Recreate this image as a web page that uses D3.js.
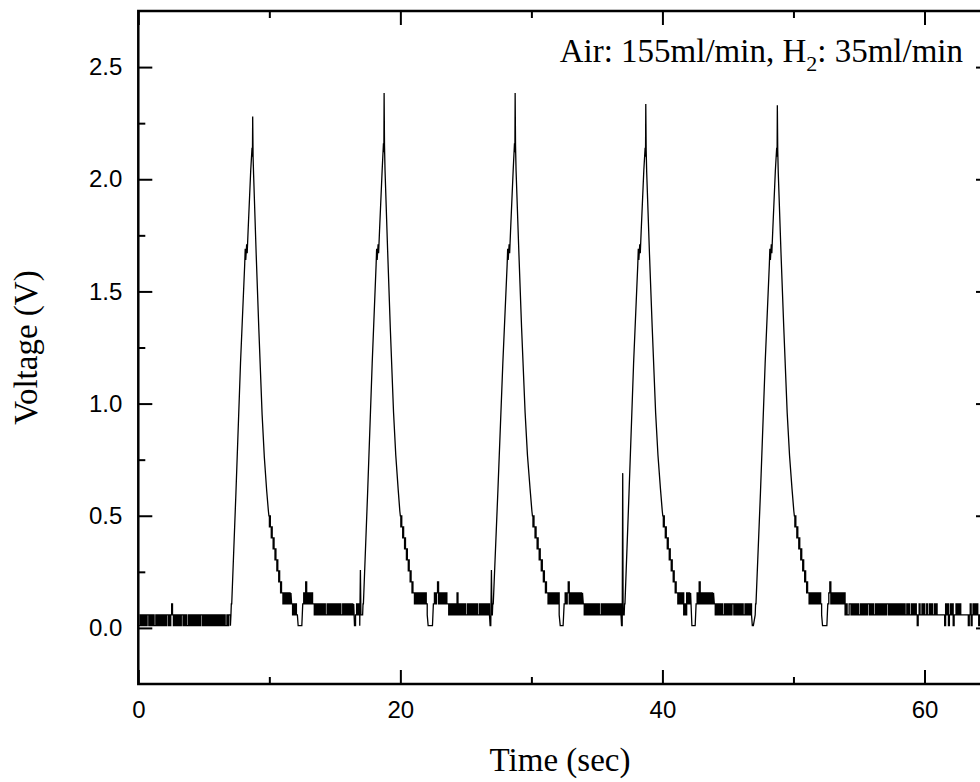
<!DOCTYPE html>
<html>
<head>
<meta charset="utf-8">
<script src="https://cdn.jsdelivr.net/npm/d3@7/dist/d3.min.js"></script>
<style>
  html, body { margin: 0; padding: 0; background: #fff; }
  svg { display: block; }
</style>
</head>
<body>
<div id="chart"></div>
<script>
// ---------------- DATA ----------------
const xTicks = [0, 20, 40, 60];
const xMinorTicks = [10, 30, 50];
const yTicks = [0, 0.5, 1.0, 1.5, 2.0, 2.5];
const yMinorTicks = [0.25, 0.75, 1.25, 1.75, 2.25];

// quantisation levels of the recorded signal (V); code '0'..'a'
const levels = [0.01, 0.058, 0.107, 0.156, 0.205, 0.254, 0.303, 0.352, 0.401, 0.450, 0.499];

// noisy / quantised stretches: [t start, t end, level codes evenly spaced in time]
const noiseRuns = [
  [0.00, 7.03, "0010101010110101010010101010101011010121010101010110101001010101010101011010101010101010101010101010010110"],
  [9.97, 10.93, "a9a9989887877676656554544343"],
  [10.97, 11.65, "32323232323"],
  [11.70, 12.14, "2121211"],
  [12.20, 12.48, "0000"],
  [12.55, 13.30, "23242323232"],
  [13.36, 16.44, "212121212121211212121212121212112121212121212"],
  [16.50, 16.90, "012120"],
  [20.00, 20.96, "a9a9989887877676656554544343"],
  [21.00, 22.05, "323232323232321"],
  [22.12, 22.45, "0000"],
  [22.52, 23.55, "23234232323232"],
  [23.62, 26.80, "2121212121312121212112121212121211212121212121"],
  [26.85, 26.90, "00"],
  [30.08, 31.15, "a9a9989887877676656554544343"],
  [31.20, 32.12, "32323232323231"],
  [32.20, 32.42, "000"],
  [32.50, 33.90, "2323423232323232323"],
  [33.96, 36.84, "21212121212121212112121212121212121212121"],
  [36.88, 36.93, "00"],
  [40.03, 41.05, "a9a9989887877676656554544343"],
  [41.10, 42.15, "323232312132323"],
  [42.25, 42.50, "0000"],
  [42.57, 43.90, "232423232323232323"],
  [43.96, 46.80, "21212121211212121212212121212121121212121"],
  [46.86, 46.94, "00"],
  [50.07, 51.08, "a9a9989887877676656554544343"],
  [51.12, 52.15, "323232323232321"],
  [52.22, 52.55, "0000"],
  [52.62, 54.25, "2342323232323232312112"],
  [54.32, 58.52, "212121212112121212122121211212121212121221212121212121212121"],
  [58.58, 64.50, "12121121212101211212112112121121211111111021201212011212121111111101201212121012121"]
];

// pulses: [time (s), voltage (V)] read from the rising and falling edges
const pulse1 = [[7.07,0.058],[7.10,0.107],[7.13,0.107],[7.45,0.60],[7.80,1.18],[8.12,1.62],[8.16,1.69],[8.20,1.64],[8.27,1.71],[8.31,1.67],[8.38,1.77],[8.58,2.04],[8.68,2.14],[8.71,2.10],[8.73,2.28],[8.76,2.10],[8.80,2.02],[9.00,1.66],[9.20,1.33],[9.45,0.95],[9.62,0.76],[9.80,0.61],[9.93,0.52]];
const pulse2 = [[16.95,0.258],[16.99,0.058],[17.12,0.058],[17.15,0.107],[17.18,0.107],[17.50,0.60],[17.85,1.18],[18.15,1.62],[18.19,1.69],[18.23,1.64],[18.30,1.71],[18.34,1.67],[18.41,1.77],[18.61,2.04],[18.71,2.16],[18.74,2.12],[18.76,2.385],[18.79,2.15],[18.83,2.04],[19.03,1.68],[19.23,1.34],[19.48,0.96],[19.65,0.77],[19.83,0.62],[19.96,0.52]];
const pulse3 = [[26.95,0.258],[26.99,0.058],[27.02,0.058],[27.05,0.107],[27.09,0.107],[27.45,0.62],[27.82,1.18],[28.15,1.62],[28.19,1.69],[28.23,1.64],[28.30,1.71],[28.34,1.67],[28.41,1.77],[28.61,2.04],[28.71,2.16],[28.74,2.12],[28.76,2.385],[28.79,2.15],[28.83,2.04],[29.04,1.68],[29.25,1.34],[29.52,0.96],[29.70,0.77],[29.90,0.62],[30.04,0.52]];
const pulse4 = [[36.97,0.69],[37.00,0.058],[37.08,0.058],[37.11,0.107],[37.14,0.107],[37.45,0.60],[37.80,1.18],[38.12,1.62],[38.16,1.69],[38.20,1.64],[38.27,1.71],[38.31,1.67],[38.38,1.77],[38.58,2.04],[38.68,2.14],[38.71,2.10],[38.73,2.335],[38.76,2.13],[38.80,2.03],[39.01,1.67],[39.22,1.34],[39.48,0.96],[39.66,0.77],[39.85,0.62],[39.99,0.52]];
const pulse5 = [[47.08,0.058],[47.11,0.107],[47.14,0.107],[47.48,0.60],[47.84,1.18],[48.16,1.62],[48.20,1.69],[48.24,1.64],[48.31,1.71],[48.35,1.67],[48.42,1.77],[48.62,2.04],[48.72,2.14],[48.75,2.10],[48.77,2.33],[48.80,2.13],[48.84,2.03],[49.05,1.67],[49.26,1.34],[49.52,0.96],[49.70,0.77],[49.89,0.62],[50.03,0.52]];
const pulses = [pulse1, pulse2, pulse3, pulse4, pulse5];

// ---------------- CHART ----------------
const W = 980, H = 782;
const plot = { left: 138.3, right: 990, top: 11, bottom: 684 };

const svg = d3.select("#chart").append("svg")
  .attr("width", W).attr("height", H);

const x = d3.scaleLinear().domain([0, 65]).range([plot.left, plot.right]);
const y = d3.scaleLinear().domain([-0.25, 2.75]).range([plot.bottom, plot.top]);

svg.append("clipPath").attr("id", "clip")
  .append("rect").attr("x", plot.left).attr("y", plot.top)
  .attr("width", plot.right - plot.left).attr("height", plot.bottom - plot.top);

// pieces of the trace, in time order: quantised runs are held sample-to-sample,
// pulse edges are joined straight
const pieces = [];
noiseRuns.forEach(([t0, t1, codes]) => {
  const n = codes.length;
  const pts = [];
  for (let i = 0; i < n; i++) {
    const t = n > 1 ? t0 + (t1 - t0) * i / (n - 1) : t0;
    pts.push([t, levels[parseInt(codes[i], 16)]]);
  }
  pieces.push({ t0, pts, step: true });
});
pulses.forEach(p => pieces.push({ t0: p[0][0], pts: p, step: false }));
pieces.sort((a, b) => a.t0 - b.t0);

const lineLin = d3.line().x(d => x(d[0])).y(d => y(d[1]));
const lineStep = d3.line().x(d => x(d[0])).y(d => y(d[1])).curve(d3.curveStepAfter);
const pathD = pieces.map((pc, i) => {
  const s = (pc.step ? lineStep : lineLin)(pc.pts);
  return i === 0 ? s : "L" + s.slice(1);
}).join("");

svg.append("path")
  .attr("clip-path", "url(#clip)")
  .attr("fill", "none")
  .attr("stroke", "#000")
  .attr("stroke-width", 1.3)
  .attr("d", pathD);

const tickFont = "'Liberation Sans', Arial, sans-serif";
const serif = "'Liberation Serif', 'Times New Roman', serif";

function styleAxis(g) {
  g.select(".domain").remove();
  g.selectAll(".tick line").attr("stroke", "#000").attr("stroke-width", 2);
  g.selectAll(".tick text").attr("fill", "#000")
    .style("font-family", tickFont).style("font-size", "24px");
}

// bottom axis
svg.append("g").attr("transform", `translate(0,${plot.bottom})`)
  .call(d3.axisBottom(x).tickValues(xTicks).tickSize(-14).tickPadding(17).tickFormat(d3.format("d")))
  .call(styleAxis);
svg.append("g").attr("transform", `translate(0,${plot.bottom})`)
  .call(d3.axisBottom(x).tickValues(xMinorTicks).tickSize(-7).tickFormat(""))
  .call(styleAxis);
// top axis
svg.append("g").attr("transform", `translate(0,${plot.top})`)
  .call(d3.axisTop(x).tickValues(xTicks).tickSize(-14).tickFormat(""))
  .call(styleAxis);
svg.append("g").attr("transform", `translate(0,${plot.top})`)
  .call(d3.axisTop(x).tickValues(xMinorTicks).tickSize(-7).tickFormat(""))
  .call(styleAxis);
// left axis
svg.append("g").attr("transform", `translate(${plot.left},0)`)
  .call(d3.axisLeft(y).tickValues(yTicks).tickSize(-14).tickPadding(16).tickFormat(d3.format(".1f")))
  .call(styleAxis);
svg.append("g").attr("transform", `translate(${plot.left},0)`)
  .call(d3.axisLeft(y).tickValues(yMinorTicks).tickSize(-7).tickFormat(""))
  .call(styleAxis);
// right axis
svg.append("g").attr("transform", `translate(${plot.right},0)`)
  .call(d3.axisRight(y).tickValues(yTicks).tickSize(-14).tickFormat(""))
  .call(styleAxis);
svg.append("g").attr("transform", `translate(${plot.right},0)`)
  .call(d3.axisRight(y).tickValues(yMinorTicks).tickSize(-7).tickFormat(""))
  .call(styleAxis);

// frame
svg.append("rect")
  .attr("x", plot.left).attr("y", plot.top)
  .attr("width", plot.right - plot.left).attr("height", plot.bottom - plot.top)
  .attr("fill", "none").attr("stroke", "#000").attr("stroke-width", 2.5);

// axis titles
svg.append("text")
  .attr("x", 560).attr("y", 771)
  .attr("text-anchor", "middle")
  .style("font-family", serif).style("font-size", "33px")
  .text("Time (sec)");

svg.append("text")
  .attr("transform", `translate(37,${(plot.top + plot.bottom) / 2}) rotate(-90)`)
  .attr("text-anchor", "middle")
  .style("font-family", serif).style("font-size", "33px")
  .text("Voltage (V)");

// annotation
const ann = svg.append("text")
  .attr("x", 963).attr("y", 62)
  .attr("text-anchor", "end")
  .style("font-family", serif).style("font-size", "33px");
ann.append("tspan").text("Air: 155ml/min, H");
ann.append("tspan").attr("dy", 9).style("font-size", "22px").text("2");
ann.append("tspan").attr("dy", -9).text(": 35ml/min");
</script>
</body>
</html>
